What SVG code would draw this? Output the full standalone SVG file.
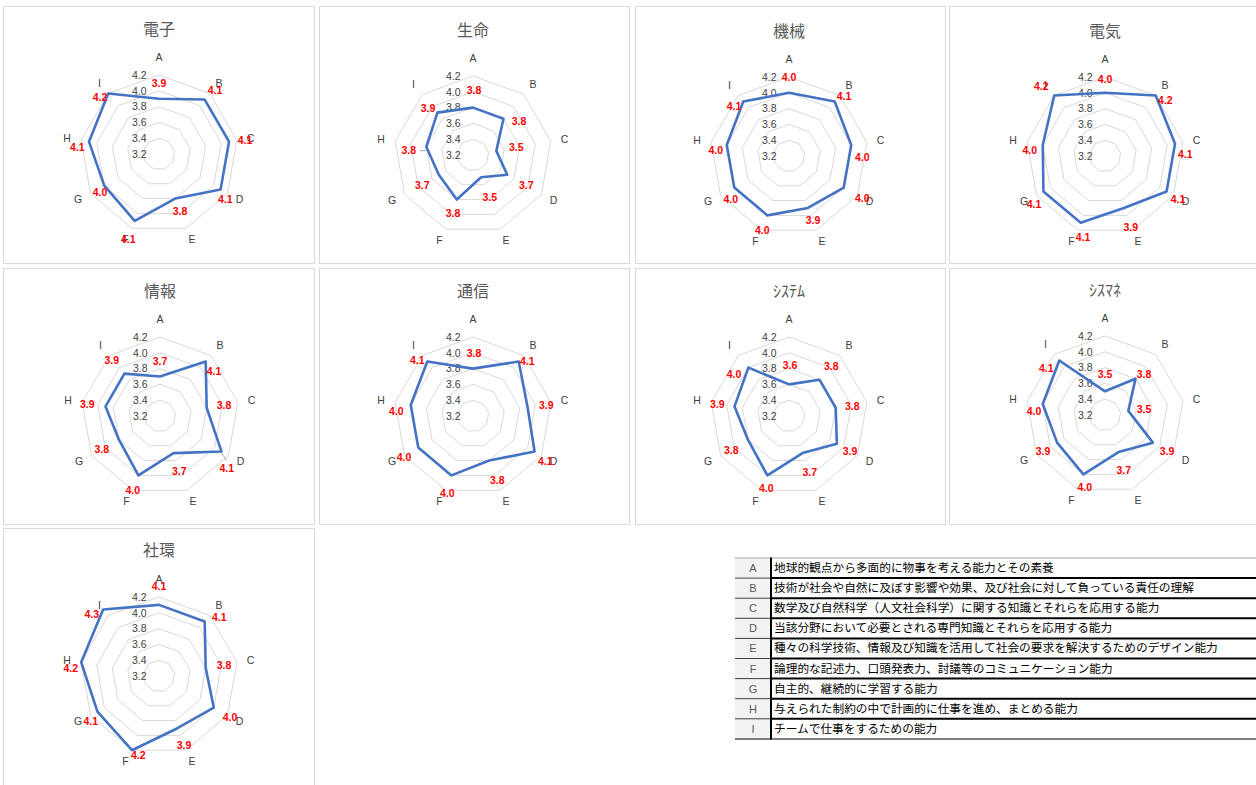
<svg xmlns="http://www.w3.org/2000/svg" xmlns:xlink="http://www.w3.org/1999/xlink" width="1256" height="785" viewBox="0 0 1256 785">
<style>
.panel{fill:#fff;stroke:#d9d9d9;stroke-width:1}
.ring{fill:none;stroke:#d9d9d9;stroke-width:1}
.title{font-family:"Noto Sans CJK JP","Noto Sans",sans-serif;font-size:16px;fill:#595959;text-anchor:middle}
.ax{font-family:"Liberation Sans","Noto Sans",sans-serif;font-size:10.5px;fill:#404040;text-anchor:middle}
.sc{font-family:"Liberation Sans","Noto Sans",sans-serif;font-size:10.5px;fill:#404040;text-anchor:end}
.data{fill:none;stroke:#4472c4;stroke-width:2.6;stroke-linejoin:round}
.dl{font-family:"Liberation Sans","Noto Sans",sans-serif;font-size:10.5px;font-weight:bold;fill:#ff0000;text-anchor:middle}
.lead{stroke:#a6a6a6;stroke-width:1}
.lt{font-family:"Liberation Sans","Noto Sans",sans-serif;font-size:11px;fill:#595959;text-anchor:middle}
.lx{font-family:"Noto Sans CJK JP",sans-serif;font-size:11.7px;fill:#000}
</style>
<defs>
<g id="grid">
<polygon class="ring" points="0,-15.8 10.16,-12.10 15.56,-2.74 13.68,7.9 5.40,14.85 -5.40,14.85 -13.68,7.9 -15.56,-2.74 -10.16,-12.10"/>
<polygon class="ring" points="0,-31.6 20.31,-24.21 31.12,-5.49 27.37,15.8 10.81,29.69 -10.81,29.69 -27.37,15.8 -31.12,-5.49 -20.31,-24.21"/>
<polygon class="ring" points="0,-47.4 30.47,-36.31 46.68,-8.23 41.05,23.7 16.21,44.54 -16.21,44.54 -41.05,23.7 -46.68,-8.23 -30.47,-36.31"/>
<polygon class="ring" points="0,-63.2 40.62,-48.41 62.24,-10.97 54.73,31.6 21.61,59.39 -21.61,59.39 -54.73,31.6 -62.24,-10.97 -40.62,-48.41"/>
<polygon class="ring" points="0,-79 50.78,-60.51 77.80,-13.72 68.41,39.5 27.02,74.24 -27.02,74.24 -68.41,39.5 -77.80,-13.72 -50.78,-60.51"/>
<text class="sc" x="-12.5" y="-75.3">4.2</text>
<text class="sc" x="-12.5" y="-59.5">4.0</text>
<text class="sc" x="-12.5" y="-43.7">3.8</text>
<text class="sc" x="-12.5" y="-27.9">3.6</text>
<text class="sc" x="-12.5" y="-12.1">3.4</text>
<text class="sc" x="-12.5" y="3.7">3.2</text>
<text class="ax" x="0" y="-93.3">A</text>
<text class="ax" x="60" y="-67.3">B</text>
<text class="ax" x="91.5" y="-12">C</text>
<text class="ax" x="80.5" y="49">D</text>
<text class="ax" x="33" y="89">E</text>
<text class="ax" x="-33.5" y="89">F</text>
<text class="ax" x="-81" y="49">G</text>
<text class="ax" x="-92" y="-12">H</text>
<text class="ax" x="-59.5" y="-67.3">I</text>
</g>
</defs>
<rect width="1256" height="785" fill="#fff"/>

<g id="chart-denshi">
<rect class="panel" x="3.5" y="6.5" width="311" height="257"/>
<g transform="translate(159,154)">
<text class="title" x="0" y="-119">電子</text>
<use href="#grid" xlink:href="#grid"/>
<polygon class="data" points="0,-55.3 45.70,-54.46 70.02,-12.34 61.57,35.55 16.21,44.54 -24.32,66.81 -54.73,31.6 -70.02,-12.34 -50.78,-60.51"/>
<text class="dl" x="0" y="-67.3">3.9</text>
<text class="dl" x="56" y="-59.6">4.1</text>
<text class="dl" x="86" y="-10.3">4.1</text>
<text class="dl" x="66.3" y="49">4.1</text>
<text class="dl" x="21" y="61.4">3.8</text>
<text class="dl" x="-30.7" y="88.7">4.1</text>
<text class="dl" x="-59" y="42.4">4.0</text>
<text class="dl" x="-81.7" y="-2.6">4.1</text>
<text class="dl" x="-59" y="-53">4.2</text>
</g>
</g>

<g id="chart-seimei">
<rect class="panel" x="319.5" y="6.5" width="310" height="257"/>
<g transform="translate(473,155)">
<text class="title" x="0" y="-119">生命</text>
<use href="#grid" xlink:href="#grid"/>
<polygon class="data" points="0,-47.4 30.47,-36.31 23.34,-4.11 34.21,19.75 8.11,22.27 -16.21,44.54 -34.21,19.75 -46.68,-8.23 -35.55,-42.36"/>
<line class="lead" x1="-53" y1="-4.3" x2="-47" y2="-4.3"/>
<text class="dl" x="1" y="-60.6">3.8</text>
<text class="dl" x="46" y="-29.6">3.8</text>
<text class="dl" x="43.3" y="-3.6">3.5</text>
<text class="dl" x="53.3" y="34.4">3.7</text>
<text class="dl" x="16.7" y="46.4">3.5</text>
<text class="dl" x="-20" y="62">3.8</text>
<text class="dl" x="-50.7" y="34.4">3.7</text>
<text class="dl" x="-64.3" y="-0.6">3.8</text>
<text class="dl" x="-45" y="-43">3.9</text>
</g>
</g>

<g id="chart-kikai">
<rect class="panel" x="635.5" y="6.5" width="310" height="257"/>
<g transform="translate(789,156)">
<text class="title" x="0" y="-119">機械</text>
<use href="#grid" xlink:href="#grid"/>
<polygon class="data" points="0,-63.2 45.70,-54.46 62.24,-10.97 54.73,31.6 18.91,51.97 -21.61,59.39 -54.73,31.6 -62.24,-10.97 -45.70,-54.46"/>
<text class="dl" x="0" y="-75">4.0</text>
<text class="dl" x="55" y="-55.6">4.1</text>
<text class="dl" x="73.3" y="5">4.0</text>
<text class="dl" x="73.3" y="46">4.0</text>
<text class="dl" x="24" y="68.4">3.9</text>
<text class="dl" x="-26.7" y="77.7">4.0</text>
<text class="dl" x="-58.3" y="47">4.0</text>
<text class="dl" x="-73.3" y="-2.3">4.0</text>
<text class="dl" x="-55" y="-45.6">4.1</text>
</g>
</g>

<g id="chart-denki">
<rect class="panel" x="949.5" y="6.5" width="312" height="257"/>
<g transform="translate(1105,156)">
<text class="title" x="0" y="-119">電気</text>
<use href="#grid" xlink:href="#grid"/>
<polygon class="data" points="0,-63.2 50.78,-60.51 70.02,-12.34 61.57,35.55 18.91,51.97 -24.32,66.81 -61.57,35.55 -62.24,-10.97 -50.78,-60.51"/>
<text class="dl" x="0" y="-73.3">4.0</text>
<text class="dl" x="60.3" y="-52.3">4.2</text>
<text class="dl" x="80.3" y="1.7">4.1</text>
<text class="dl" x="73" y="46.7">4.1</text>
<text class="dl" x="25.7" y="75.4">3.9</text>
<text class="dl" x="-22" y="85.4">4.1</text>
<text class="dl" x="-71" y="51.7">4.1</text>
<text class="dl" x="-75.3" y="-1.6">4.0</text>
<text class="dl" x="-63.7" y="-66.3">4.2</text>
</g>
</g>

<g id="chart-joho">
<rect class="panel" x="3.5" y="268.5" width="311" height="256"/>
<g transform="translate(160,416)">
<text class="title" x="0" y="-119">情報</text>
<use href="#grid" xlink:href="#grid"/>
<polygon class="data" points="0,-39.5 45.70,-54.46 46.68,-8.23 61.57,35.55 13.51,37.12 -21.61,59.39 -41.05,23.7 -54.46,-9.60 -35.55,-42.36"/>
<line class="lead" x1="61.5" y1="37" x2="66.5" y2="44.5"/>
<text class="dl" x="0" y="-50.6">3.7</text>
<text class="dl" x="54" y="-41.3">4.1</text>
<text class="dl" x="64" y="-7.3">3.8</text>
<text class="dl" x="66.7" y="56">4.1</text>
<text class="dl" x="19.3" y="59.4">3.7</text>
<text class="dl" x="-27.3" y="77.7">4.0</text>
<text class="dl" x="-58.3" y="37">3.8</text>
<text class="dl" x="-72.7" y="-8">3.9</text>
<text class="dl" x="-48.3" y="-52.3">3.9</text>
</g>
</g>

<g id="chart-tsushin">
<rect class="panel" x="319.5" y="268.5" width="310" height="256"/>
<g transform="translate(473,416)">
<text class="title" x="0" y="-119">通信</text>
<use href="#grid" xlink:href="#grid"/>
<polygon class="data" points="0,-47.4 45.70,-54.46 54.46,-9.60 61.57,35.55 16.21,44.54 -21.61,59.39 -54.73,31.6 -62.24,-10.97 -45.70,-54.46"/>
<text class="dl" x="1" y="-59">3.8</text>
<text class="dl" x="54.3" y="-51.3">4.1</text>
<text class="dl" x="73.3" y="-7.3">3.9</text>
<text class="dl" x="72.3" y="48.7">4.1</text>
<text class="dl" x="24.3" y="67.7">3.8</text>
<text class="dl" x="-25.7" y="81">4.0</text>
<text class="dl" x="-69" y="45.4">4.0</text>
<text class="dl" x="-76.7" y="-0.6">4.0</text>
<text class="dl" x="-55.7" y="-52.3">4.1</text>
</g>
</g>

<g id="chart-system">
<rect class="panel" x="635.5" y="268.5" width="310" height="256"/>
<g transform="translate(789,416)">
<text class="title" x="0" y="-119">ｼｽﾃﾑ</text>
<use href="#grid" xlink:href="#grid"/>
<polygon class="data" points="0,-31.6 30.47,-36.31 46.68,-8.23 47.89,27.65 13.51,37.12 -21.61,59.39 -41.05,23.7 -54.46,-9.60 -40.62,-48.41"/>
<text class="dl" x="1" y="-46.6">3.6</text>
<text class="dl" x="42.3" y="-45.6">3.8</text>
<text class="dl" x="63.3" y="-6.3">3.8</text>
<text class="dl" x="61" y="39.4">3.9</text>
<text class="dl" x="20.7" y="60">3.7</text>
<text class="dl" x="-22.7" y="76">4.0</text>
<text class="dl" x="-57.7" y="37.7">3.8</text>
<text class="dl" x="-71.7" y="-8">3.9</text>
<text class="dl" x="-55" y="-38">4.0</text>
</g>
</g>

<g id="chart-sysmane">
<rect class="panel" x="949.5" y="268.5" width="312" height="256"/>
<g transform="translate(1105,415)">
<text class="title" x="0" y="-119">ｼｽﾏﾈ</text>
<use href="#grid" xlink:href="#grid"/>
<polygon class="data" points="0,-23.7 30.47,-36.31 23.34,-4.11 47.89,27.65 13.51,37.12 -21.61,59.39 -47.89,27.65 -62.24,-10.97 -45.70,-54.46"/>
<text class="dl" x="0" y="-37">3.5</text>
<text class="dl" x="39" y="-37">3.8</text>
<text class="dl" x="39" y="-2.3">3.5</text>
<text class="dl" x="62" y="40.4">3.9</text>
<text class="dl" x="18.7" y="58.7">3.7</text>
<text class="dl" x="-20.3" y="76.4">4.0</text>
<text class="dl" x="-62" y="40.4">3.9</text>
<text class="dl" x="-71" y="-0.3">4.0</text>
<text class="dl" x="-58.7" y="-43">4.1</text>
</g>
</g>

<g id="chart-shakan">
<rect class="panel" x="3.5" y="528.5" width="311" height="262"/>
<g transform="translate(159,676)">
<text class="title" x="0" y="-120">社環</text>
<use href="#grid" xlink:href="#grid"/>
<polygon class="data" points="0,-71.1 45.70,-54.46 46.68,-8.23 54.73,31.6 18.91,51.97 -27.02,74.24 -61.57,35.55 -77.80,-13.72 -55.86,-66.57"/>
<text class="dl" x="0" y="-86.3">4.1</text>
<text class="dl" x="60.3" y="-54.6">4.1</text>
<text class="dl" x="65" y="-7.3">3.8</text>
<text class="dl" x="71" y="45.4">4.0</text>
<text class="dl" x="25" y="72.7">3.9</text>
<text class="dl" x="-20.7" y="82.7">4.2</text>
<text class="dl" x="-68.3" y="48.7">4.1</text>
<text class="dl" x="-88.3" y="-4">4.2</text>
<text class="dl" x="-67.3" y="-58">4.3</text>
</g>
</g>

<g id="legend">
<rect x="735" y="558" width="36" height="181" fill="#f3f3f3"/>
<line x1="735" y1="558" x2="1256" y2="558" stroke="#a6a6a6" stroke-width="1"/>
<g stroke="#404040" stroke-width="1">
<line x1="735" y1="578.1" x2="771" y2="578.1"/>
<line x1="735" y1="598.2" x2="771" y2="598.2"/>
<line x1="735" y1="618.3" x2="771" y2="618.3"/>
<line x1="735" y1="638.4" x2="771" y2="638.4"/>
<line x1="735" y1="658.5" x2="771" y2="658.5"/>
<line x1="735" y1="678.6" x2="771" y2="678.6"/>
<line x1="735" y1="698.7" x2="771" y2="698.7"/>
<line x1="735" y1="718.8" x2="771" y2="718.8"/>
</g>
<g stroke="#000" stroke-width="2">
<line x1="771" y1="578.1" x2="1256" y2="578.1"/>
<line x1="771" y1="598.2" x2="1256" y2="598.2"/>
<line x1="771" y1="618.3" x2="1256" y2="618.3"/>
<line x1="771" y1="638.4" x2="1256" y2="638.4"/>
<line x1="771" y1="658.5" x2="1256" y2="658.5"/>
<line x1="771" y1="678.6" x2="1256" y2="678.6"/>
<line x1="771" y1="698.7" x2="1256" y2="698.7"/>
<line x1="771" y1="718.8" x2="1256" y2="718.8"/>
<line x1="771" y1="557.5" x2="771" y2="739.5"/>
</g>
<line x1="735" y1="739" x2="1256" y2="739" stroke="#000" stroke-width="1"/>
<text class="lt" x="753" y="572">A</text>
<text class="lt" x="753" y="592.1">B</text>
<text class="lt" x="753" y="612.2">C</text>
<text class="lt" x="753" y="632.3">D</text>
<text class="lt" x="753" y="652.4">E</text>
<text class="lt" x="753" y="672.5">F</text>
<text class="lt" x="753" y="692.6">G</text>
<text class="lt" x="753" y="712.7">H</text>
<text class="lt" x="753" y="732.8">I</text>
<text class="lx" x="774" y="572">地球的観点から多面的に物事を考える能力とその素養</text>
<text class="lx" x="774" y="592.1">技術が社会や自然に及ぼす影響や効果、及び社会に対して負っている責任の理解</text>
<text class="lx" x="774" y="612.2">数学及び自然科学（人文社会科学）に関する知識とそれらを応用する能力</text>
<text class="lx" x="774" y="632.3">当該分野において必要とされる専門知識とそれらを応用する能力</text>
<text class="lx" x="774" y="652.4">種々の科学技術、情報及び知識を活用して社会の要求を解決するためのデザイン能力</text>
<text class="lx" x="774" y="672.5">論理的な記述力、口頭発表力、討議等のコミュニケーション能力</text>
<text class="lx" x="774" y="692.6">自主的、継続的に学習する能力</text>
<text class="lx" x="774" y="712.7">与えられた制約の中で計画的に仕事を進め、まとめる能力</text>
<text class="lx" x="774" y="732.8">チームで仕事をするための能力</text>
</g>
</svg>
